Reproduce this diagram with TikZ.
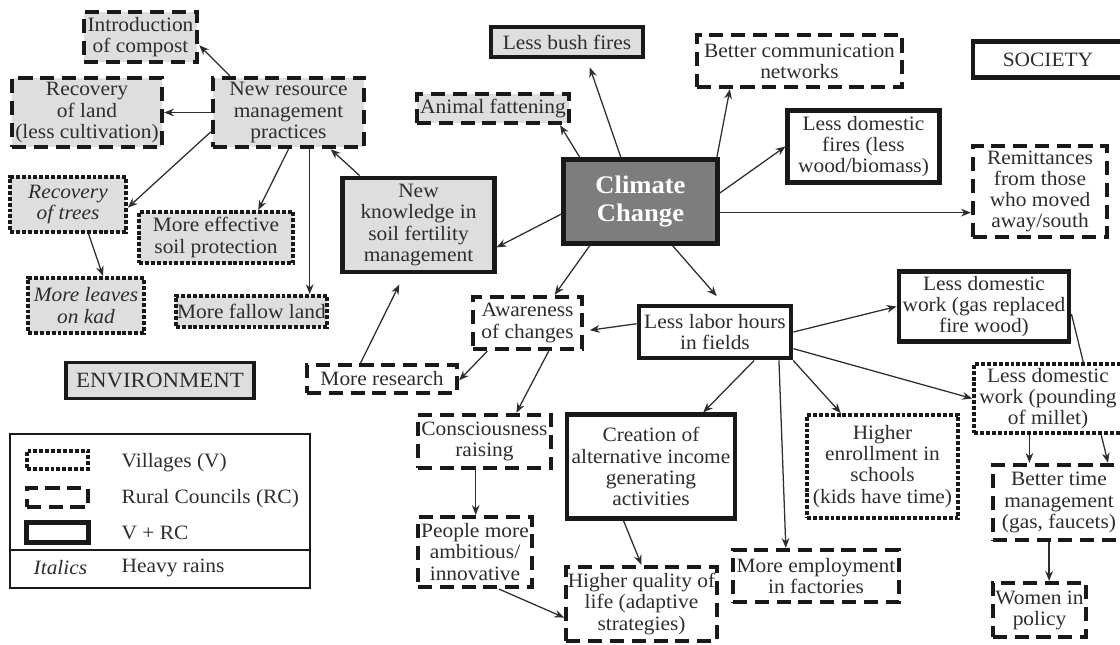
\documentclass[tikz,border=0pt]{standalone}
\usepackage{fontspec}
\setmainfont{Liberation Serif}[FakeStretch=1.05]
\usetikzlibrary{arrows.meta,backgrounds}
\definecolor{envgray}{RGB}{222,222,222}
\definecolor{ccgray}{RGB}{125,125,125}
\definecolor{inkgray}{RGB}{45,45,45}
\begin{document}
\begin{tikzpicture}[x=0.025cm, y=-0.025cm, >={Stealth[length=7pt,width=5.5pt]},
box/.style={rectangle,align=center,inner sep=1pt,fill=white,text=inkgray,font=\fontsize{14.5}{15}\selectfont},
v node/.style={box,draw=black!90,line width=2.6pt,dash pattern=on 2.8pt off 1.4pt},
rc node/.style={box,draw=black!90,line width=3pt,dash pattern=on 10pt off 5.5pt},
vrc node/.style={box,draw=black!90,line width=3.5pt},
env/.style={fill=envgray},
link/.style={draw=inkgray,->,line width=0.9pt}]%fill=white
\useasboundingbox (0,0) rectangle (1120,645);
\begin{scope}
% environment side
\node[rc node,env,minimum width=2.83cm,minimum height=1.25cm] (compost) at (140.5,37) {Introduction\\of compost};
\node[rc node,env,minimum width=3.75cm,minimum height=1.73cm] (land) at (87,112.5) {Recovery\\of land\\(less cultivation)};
\node[rc node,env,minimum width=3.78cm,minimum height=1.73cm] (nrmp) at (288.5,112.5) {New resource\\management\\practices};
\node[v node,env,minimum width=2.9cm,minimum height=1.38cm] (trees) at (68,204.5) {\itshape Recovery\\\itshape of trees};
\node[v node,env,minimum width=3.85cm,minimum height=1.28cm] (soil) at (216,237.5) {More effective\\soil protection};
\node[v node,env,minimum width=2.9cm,minimum height=1.38cm] (leaves) at (86,305.5) {\itshape More leaves\\\itshape on kad};
\node[v node,env,minimum width=3.78cm,minimum height=0.78cm] (fallow) at (251.5,311.5) {More fallow land};
\node[vrc node,env,minimum width=3.78cm,minimum height=2.35cm] (know) at (418.5,225) {New\\knowledge in\\soil fertility\\management};
\node[rc node,env,minimum width=3.8cm,minimum height=0.73cm] (fatten) at (493,108.5) {Animal fattening};
\node[vrc node,env,minimum width=3.8cm,minimum height=0.75cm] (bush) at (567,42) {Less bush fires};
\node[box,draw=black!90,line width=2.2pt,env,minimum width=4.7cm,minimum height=0.88cm,font=\fontsize{15.5}{16}\selectfont] (envlabel) at (160,380.5) {ENVIRONMENT};
% centre
\node[vrc node,fill=ccgray,text=white,minimum width=3.83cm,minimum height=2.08cm,font=\fontsize{18}{20}\selectfont\bfseries] (cc) at (640.5,201.5) {Climate\\Change};
% society side
\node[rc node,minimum width=5.13cm,minimum height=1.3cm] (comm) at (799.5,61) {Better communication\\networks};
\node[vrc node,minimum width=3.75cm,minimum height=0.88cm] (society) at (1048,59.5) {SOCIETY};
\node[vrc node,minimum width=3.78cm,minimum height=1.78cm] (dfires) at (863.5,146.5) {Less domestic\\fires (less\\wood/biomass)};
\node[rc node,minimum width=3.35cm,minimum height=2.28cm] (remit) at (1040,191.5) {Remittances\\from those\\who moved\\away/south};
\node[rc node,minimum width=2.73cm,minimum height=1.3cm] (aware) at (527.5,323) {Awareness\\of changes};
\node[vrc node,minimum width=3.8cm,minimum height=1.3cm] (labor) at (715,332) {Less labor hours\\in fields};
\node[vrc node,minimum width=4.25cm,minimum height=1.73cm] (gas) at (984,306.5) {Less domestic\\work (gas replaced\\fire wood)};
\node[v node,minimum width=3.7cm,minimum height=1.73cm] (millet) at (1048,398.5) {Less domestic\\work (pounding\\of millet)};
\node[rc node,minimum width=3.75cm,minimum height=0.7cm] (research) at (382,379) {More research};
\node[rc node,minimum width=3.33cm,minimum height=1.33cm] (consc) at (484.5,441.5) {Consciousness\\raising};
\node[vrc node,minimum width=4.2cm,minimum height=2.58cm] (income) at (651,466.5) {Creation of\\alternative income\\generating\\activities};
\node[rc node,minimum width=2.85cm,minimum height=1.75cm] (people) at (475,552) {People more\\ambitious/\\innovative};
\node[rc node,minimum width=3.73cm,minimum height=1.85cm] (quality) at (641.5,604) {Higher quality of\\life (adaptive\\strategies)};
\node[v node,minimum width=3.78cm,minimum height=2.58cm] (school) at (882.5,466.5) {Higher\\enrollment in\\schools\\(kids have time)};
\node[rc node,minimum width=4.15cm,minimum height=1.3cm] (employ) at (816,576) {More employment\\in factories};
\node[rc node,minimum width=3.3cm,minimum height=1.88cm] (timemgmt) at (1059,502.5) {Better time\\management\\(gas, faucets)};
\node[rc node,minimum width=2.33cm,minimum height=1.35cm] (women) at (1039.5,610) {Women in\\policy};
\end{scope}
\begin{scope}
% legend
\draw[line width=2pt,black!90] (10,434) rectangle (310,588);
\draw[line width=2pt,black!90] (10,550) -- (310,550);
\node[v node,minimum width=1.53cm,minimum height=0.45cm] (keyv) at (57.5,460) {};
\node[rc node,minimum width=1.53cm,minimum height=0.48cm] (keyrc) at (57.5,497.5) {};
\node[vrc node,minimum width=1.53cm,minimum height=0.52cm] (keyvrc) at (57.5,532.5) {};
\node[box,anchor=west,fill=none] (txtv) at (120,463) {Villages (V)};
\node[box,anchor=west,fill=none] (txtrc) at (120,499) {Rural Councils (RC)};
\node[box,anchor=west,fill=none] (txtvrc) at (120,533) {V + RC};
\node[box,anchor=west,fill=none,font=\fontsize{14.5}{15}\selectfont\itshape] (txtit) at (32,568) {Italics};
\node[box,anchor=west,fill=none] (txtrain) at (120,568) {Heavy rains};
\end{scope}
\begin{scope}[every edge/.style={link}]
\path (nrmp.148.6) edge (compost.-8)
      (nrmp) edge (land)
      (nrmp.194.5) edge (trees.-3.4)
      (nrmp.-90) edge (soil.33.2)
      (nrmp.-60.5) edge (nrmp.-60.5 |- fallow.north)
      (know.140.2) edge (nrmp.-41.2)
      (trees.-55.4) edge (leaves.60.7)
      (research.143.6) edge[shorten >=8pt] (know.-106)
      (aware.215.5) edge (research.-1.5)
      (aware.-53.1) edge (consc.42.9);
\path (cc.189.9) edge (know.-16)
      (cc.144.2) edge (fatten.-14.3)
      (cc.114) edge[shorten >=6pt] (bush.-41.4)
      (cc.30.8) edge (comm.202)
      (cc.6.3) edge (dfires.west)
      (cc.-8.5) edge (cc.-8.5 -| remit.west)
      (cc.221.4) edge (aware.46.7)
      (cc.-54.6) edge[shorten >=7pt] (labor.74.9);
\path (labor.174) edge[shorten >=4pt] (aware.-8.4)
      (labor.east) edge (gas.west)
      (labor.-12.5) edge (millet.west)
      (labor.-36.6) edge (income.46.4)
      (labor.-24.9) edge (employ.137.1)
      (labor.-20) edge (school.128.2)
      (millet.-117.5) edge (millet.-117.5 |- timemgmt.north)
      (timemgmt.-104.9) edge (timemgmt.-104.9 |- women.north)
      (consc.-107.8) edge (consc.-107.8 |- people.north)
      (people.-57.8) edge (quality.190.6)
      (income.-117.7) edge (quality.north);
\end{scope}
\begin{scope}[on background layer]
\draw[link] (gas.-5.7) -- (timemgmt.39.2);
\end{scope}
\end{tikzpicture}
\end{document}
